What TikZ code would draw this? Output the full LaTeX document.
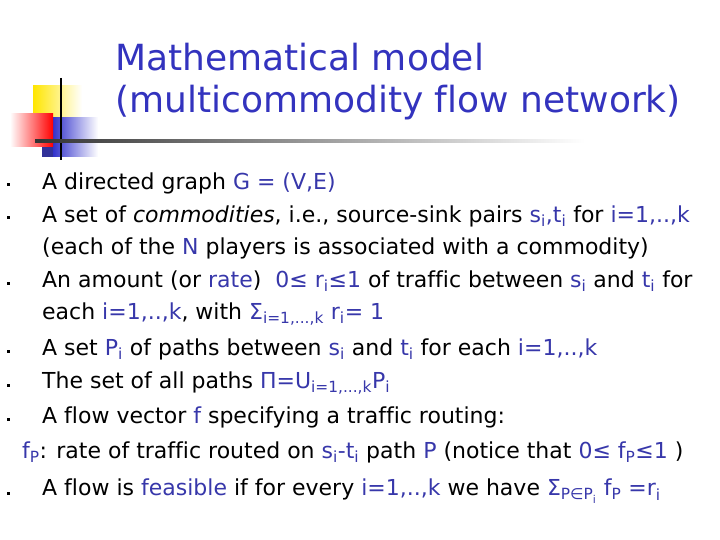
\documentclass[tikz,border=0pt]{standalone}
\usepackage{fontspec}
\setmainfont[Ligatures=NoCommon]{DejaVu Sans}
\usetikzlibrary{fadings}
\definecolor{tblue}{RGB}{51,51,190}
\definecolor{mblue}{RGB}{55,55,170}
\newcommand{\bl}[1]{\textcolor{mblue}{#1}}
\newcommand{\sbs}[1]{\textsubscript{#1}}
\tikzset{
  ln/.style={anchor=west, inner sep=0pt, font=\fontsize{22}{24}\selectfont},
  ttl/.style={anchor=west, inner sep=0pt, text=tblue, font=\fontsize{36}{40}\selectfont},
  bul/.style={fill=black, minimum size=3pt, inner sep=0pt}
}
\begin{document}
\begin{tikzpicture}[x=1pt,y=-1pt]
\useasboundingbox (0,0) rectangle (720,540);
\shade[left color=yellow!80!orange, right color=white] (33,86) rectangle (82,118);
\shade[left color=blue!75!black, right color=white] (42,118) rectangle (98,157);
\fill[mblue!90!black] (42,118) rectangle (53,157);
\shade[left color=white, right color=red] (10,114) rectangle (53,147);
\draw[line width=1.5pt] (61,78) -- (61,160);
\shade[left color=black!80, right color=white] (35,140) rectangle (585,142.5);
\node[ttl] (t1) at (115,57) {Mathematical model};
\node[ttl] (t2) at (115,103) {(multicommodity flow network)};
\foreach \y/\n in {185/b1,218/b2,283/b3,351/b4,385/b5,419/b6,493/b7}
  \node[bul] (\n) at (8,\y) {};
\node[ln] (l1) at (42,183) {A directed graph \bl{G = (V,E)}};
\node[ln] (l2) at (42,216) {A set of \textit{commodities}, i.e., source-sink pairs \bl{s\sbs{i},t\sbs{i}} for \bl{i=1,..,k}};
\node[ln] (l3) at (42,248) {(each of the \bl{N} players is associated with a commodity)};
\node[ln] (l4) at (42,281) {An amount (or \bl{rate})\ \ \bl{0≤ r\sbs{i}≤1} of traffic between \bl{s\sbs{i}} and \bl{t\sbs{i}} for};
\node[ln] (l5) at (42,314) {each \bl{i=1,..,k}, with \bl{Σ\sbs{i=1,...,k}\ r\sbs{i}= 1}};
\node[ln] (l6) at (42,349) {A set \bl{P\sbs{i}} of paths between \bl{s\sbs{i}} and \bl{t\sbs{i}} for each \bl{i=1,..,k}};
\node[ln] (l7) at (42,383) {The set of all paths \bl{Π=U\sbs{i=1,...,k}P\sbs{i}}};
\node[ln] (l8) at (42,417) {A flow vector \bl{f} specifying a traffic routing:};
\node[ln] (l9) at (22,452) {\bl{f\sbs{P}}: rate of traffic routed on \bl{s\sbs{i}-t\sbs{i}} path \bl{P} (notice that \bl{0≤ f\sbs{P}≤1} )};
\node[ln] (l10) at (42,491) {A flow is \bl{feasible} if for every \bl{i=1,..,k} we have \bl{Σ\sbs{P∈P\sbs{i}} f\sbs{P} =r\sbs{i}}};
\end{tikzpicture}
\end{document}
